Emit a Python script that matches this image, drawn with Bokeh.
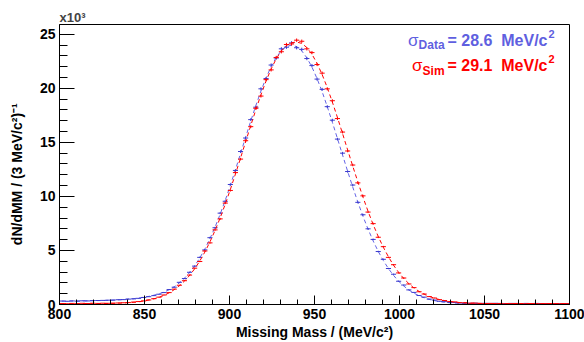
import numpy as np
from bokeh.plotting import figure
from bokeh.models import Range1d, SingleIntervalTicker, Label, ColumnDataSource
from bokeh.embed import file_html
from bokeh.resources import INLINE

# ---------------- data (counts in units of 10^3 per 3 MeV bin) ----------------
bin_width = 3.0
mass_centers = np.arange(801.5, 1100.0, bin_width)

data_counts = [
    0.32, 0.30, 0.33, 0.31, 0.34, 0.33, 0.36, 0.37, 0.38, 0.40,
    0.41, 0.44, 0.45, 0.50, 0.52, 0.57, 0.65, 0.72, 0.82, 0.95,
    1.10, 1.38, 1.60, 2.05, 2.40, 2.98, 3.55, 4.36, 5.05, 6.18,
    7.10, 8.45, 9.55, 11.10, 12.40, 14.15, 15.40, 17.10, 18.25, 19.95,
    20.90, 22.15, 22.80, 23.65, 23.80, 24.20, 23.75, 23.60, 22.75, 22.10,
    20.85, 19.90, 18.30, 17.05, 15.30, 14.00, 12.30, 11.05, 9.45, 8.30,
    7.00, 6.02, 4.90, 4.18, 3.33, 2.80, 2.15, 1.80, 1.35, 1.12,
    0.83, 0.68, 0.50, 0.41, 0.30, 0.26, 0.19, 0.18, 0.14, 0.12,
    0.11, 0.12, 0.10, 0.11, 0.10, 0.11, 0.10, 0.09, 0.10, 0.10,
    0.09, 0.10, 0.09, 0.10, 0.09, 0.08, 0.09, 0.09, 0.08, 0.09,
]
data_fit = [
    0.31, 0.32, 0.32, 0.33, 0.33, 0.34, 0.35, 0.36, 0.37, 0.38,
    0.40, 0.43, 0.46, 0.50, 0.54, 0.60, 0.67, 0.75, 0.86, 0.99,
    1.15, 1.37, 1.64, 2.00, 2.43, 2.95, 3.57, 4.30, 5.13, 6.09,
    7.16, 8.35, 9.64, 11.02, 12.47, 13.97, 15.48, 16.97, 18.40, 19.75,
    20.96, 22.01, 22.86, 23.48, 23.86, 23.99, 23.85, 23.46, 22.82, 21.96,
    20.90, 19.68, 18.31, 16.86, 15.35, 13.83, 12.32, 10.86, 9.47, 8.17,
    6.97, 5.88, 4.91, 4.06, 3.32, 2.69, 2.15, 1.71, 1.34, 1.05,
    0.81, 0.62, 0.47, 0.36, 0.27, 0.21, 0.16, 0.13, 0.10, 0.09,
    0.08, 0.08, 0.08, 0.08, 0.08, 0.08, 0.08, 0.08, 0.08, 0.08,
    0.08, 0.08, 0.08, 0.08, 0.08, 0.08, 0.08, 0.08, 0.08, 0.08,
]
sim_counts = [
    0.09, 0.07, 0.10, 0.08, 0.11, 0.09, 0.12, 0.10, 0.12, 0.11,
    0.12, 0.14, 0.16, 0.18, 0.22, 0.27, 0.33, 0.42, 0.54, 0.68,
    0.88, 1.10, 1.42, 1.78, 2.20, 2.72, 3.36, 3.98, 4.95, 5.70,
    6.90, 7.92, 9.38, 10.55, 12.20, 13.45, 15.15, 16.45, 18.15, 19.28,
    20.80, 21.70, 22.85, 23.38, 24.05, 24.10, 24.45, 24.35, 23.65, 23.30,
    22.20, 21.40, 19.95, 18.85, 17.20, 15.95, 14.20, 12.90, 11.25, 10.05,
    8.55, 7.48, 6.22, 5.35, 4.36, 3.68, 2.92, 2.45, 1.90, 1.56,
    1.18, 0.97, 0.73, 0.60, 0.45, 0.37, 0.27, 0.24, 0.17, 0.16,
    0.12, 0.13, 0.10, 0.09, 0.10, 0.08, 0.09, 0.07, 0.08, 0.09,
    0.08, 0.07, 0.09, 0.08, 0.07, 0.08, 0.09, 0.07, 0.08, 0.08,
]
sim_fit = [
    0.08, 0.08, 0.08, 0.08, 0.08, 0.08, 0.08, 0.08, 0.09, 0.095,
    0.11, 0.125, 0.145, 0.17, 0.205, 0.255, 0.32, 0.41, 0.52, 0.665,
    0.85, 1.08, 1.37, 1.73, 2.165, 2.685, 3.30, 4.02, 4.85, 5.79,
    6.845, 8.01, 9.28, 10.64, 12.07, 13.55, 15.055, 16.555, 18.015, 19.40,
    20.67, 21.79, 22.73, 23.46, 23.96, 24.215, 24.28, 24.15, 23.77, 23.15,
    22.31, 21.27, 20.07, 18.73, 17.30, 15.81, 14.30, 12.80, 11.34, 9.94,
    8.62, 7.40, 6.29, 5.29, 4.41, 3.63, 2.97, 2.40, 1.93, 1.53,
    1.21, 0.95, 0.75, 0.58, 0.46, 0.36, 0.28, 0.23, 0.18, 0.16,
    0.13, 0.12, 0.10, 0.09, 0.09, 0.08, 0.08, 0.08, 0.08, 0.08,
    0.08, 0.08, 0.08, 0.08, 0.08, 0.08, 0.08, 0.08, 0.08, 0.08,
]
sigma_data = "28.6"
sigma_sim = "29.1"

# ---------------- styling ----------------
FONT = "Liberation Sans"
BLUE = "#3a3acf"
BLUE_FIT = "#6464e6"
BLUE_TXT = "#5f5fe0"
RED = "#ff0000"
NB = "\u00a0"

p = figure(width=584, height=342,
           x_range=Range1d(800, 1100), y_range=Range1d(0, 25.9),
           output_backend="svg", toolbar_location=None,
           min_border_left=59, min_border_right=15, min_border_top=24, min_border_bottom=38)
p.xgrid.visible = False
p.ygrid.visible = False
p.outline_line_color = "black"
p.outline_line_width = 1
p.background_fill_color = "white"
p.border_fill_color = "white"

# exponent shown as a left-aligned title above the frame
p.title.text = "x10³"
p.title.align = "left"
p.title.standoff = 0
p.title.offset = 0
p.title.text_font = FONT
p.title.text_font_style = "bold"
p.title.text_font_size = "13px"

xa = p.xaxis[0]
xa.ticker = SingleIntervalTicker(interval=50, num_minor_ticks=5)
xa.major_tick_in = 9
xa.major_tick_out = 0
xa.minor_tick_in = 5
xa.minor_tick_out = 0
xa.major_label_standoff = 4
xa.axis_label = "Missing Mass / (MeV/c²)"
xa.axis_label_standoff = 2
xa.axis_label_text_font_size = "14px"

ya = p.yaxis[0]
ya.ticker = SingleIntervalTicker(interval=5, num_minor_ticks=5)
ya.major_tick_in = 15
ya.major_tick_out = 0
ya.minor_tick_in = 8
ya.minor_tick_out = 0
ya.major_label_standoff = 4
ya.axis_label = "dN/dMM / (3 MeV/c²)⁻¹" + NB * 5
ya.axis_label_standoff = 12
ya.axis_label_text_font_size = "14px"

for ax in (xa, ya):
    ax.axis_line_color = "black"
    ax.major_tick_line_color = "black"
    ax.minor_tick_line_color = "black"
    ax.major_label_text_font = FONT
    ax.major_label_text_font_style = "bold"
    ax.major_label_text_font_size = "14px"
    ax.major_label_text_color = "black"
    ax.axis_label_text_font = FONT
    ax.axis_label_text_font_style = "bold"
    ax.axis_label_text_color = "black"


def draw_hist(counts, fit, color, fit_color):
    c = np.asarray(counts)
    err = np.sqrt(c * 1000.0) / 1000.0
    src = ColumnDataSource(dict(x=mass_centers, y=c,
                                xl=mass_centers - bin_width / 2, xr=mass_centers + bin_width / 2,
                                lo=c - err, hi=c + err))
    p.line(mass_centers, fit, line_color=fit_color, line_dash="4 3", line_width=1)
    p.segment(x0="xl", y0="y", x1="xr", y1="y", source=src, line_color=color, line_width=1)
    p.segment(x0="x", y0="lo", x1="x", y1="hi", source=src, line_color=color, line_width=1)


draw_hist(data_counts, data_fit, BLUE, BLUE_FIT)
draw_hist(sim_counts, sim_fit, RED, RED)


def lab(x, y, text, size, color="black", bold=True, align="left", baseline="alphabetic"):
    p.add_layout(Label(x=x, y=y, text=text, text_font=FONT, text_font_size=size,
                       text_font_style="bold" if bold else "normal", text_color=color,
                       text_align=align, text_baseline=baseline))


# sigma annotations (sigma, subscript, value, superscript)
lab(1028.2, 24.42, "= " + sigma_data + NB + NB + "MeV/c", "16px", color=BLUE_TXT)
lab(1087.6, 25.05, "2", "11px", color=BLUE_TXT)
lab(1026.5, 23.96, "Data", "12px", color=BLUE_TXT, align="right")
lab(1011.2, 24.42, "σ", "17px", color=BLUE_TXT, bold=False, align="right")
lab(1028.2, 22.11, "= " + sigma_sim + NB + NB + "MeV/c", "16px", color=RED)
lab(1087.6, 22.74, "2", "11px", color=RED)
lab(1026.5, 21.64, "Sim", "12px", color=RED, align="right")
lab(1013.5, 22.11, "σ", "17px", color=RED, bold=False, align="right")

open("out.html", "w").write(file_html(p, INLINE))
